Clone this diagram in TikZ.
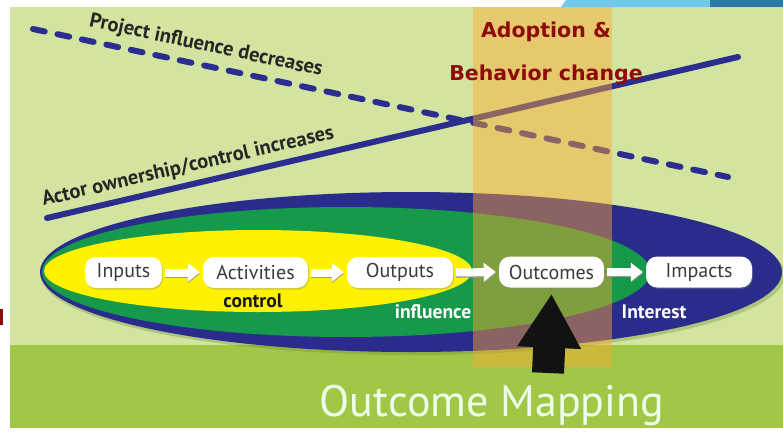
\documentclass[tikz,border=0pt]{standalone}
\usepackage{fontspec}
\setmainfont{PT Sans}
\newfontfamily\djv{DejaVu Sans}
\usetikzlibrary{arrows.meta,shadows}
\definecolor{bgl}{HTML}{D2E4A0}
\definecolor{bgd}{HTML}{A0C846}
\definecolor{navy}{HTML}{2B2E8F}
\definecolor{ellblue}{HTML}{2A2C8C}
\definecolor{ellgreen}{HTML}{16994A}
\definecolor{ellyellow}{HTML}{FFF200}
\definecolor{bandc}{HTML}{FFA830}
\definecolor{darkred}{HTML}{8E0B0B}
\definecolor{lblue}{HTML}{70C8EA}
\definecolor{dblue}{HTML}{2C78A8}
\definecolor{txt}{HTML}{3A3A3A}
\definecolor{shad}{HTML}{6E8A3A}
\begin{document}
\begin{tikzpicture}[x=1pt,y=-1pt,
  box/.style={fill=white, rounded corners=11pt, minimum height=31pt, inner sep=0pt,
    text=txt, font=\fontsize{20}{20}\selectfont,
    drop shadow={opacity=0.35, shadow xshift=1pt, shadow yshift=-1.5pt}},
  flow/.style={white, line width=8pt, -{Triangle[length=12pt,width=18pt]}},
  flowshade/.style={black!40, line width=8pt, -{Triangle[length=12pt,width=18pt]}},
  lab/.style={font=\bfseries\fontsize{19.5}{19.5}\selectfont, inner sep=0pt},
  linelab/.style={font=\bfseries\fontsize{20.5}{20.5}\selectfont, text=black!85, inner sep=0pt},
  redlab/.style={font=\djv\bfseries\fontsize{20.5}{20.5}\selectfont, text=darkred, inner sep=0pt},
  trend/.style={navy, line width=6pt, line cap=round}
]
\useasboundingbox (0,0) rectangle (783,431);
% backgrounds
\fill[bgl] (10,7) rectangle (783,345);
\fill[bgd] (10,345) rectangle (783,428);
\fill[lblue] (566,0) -- (783,0) -- (783,7) -- (561,7) -- cycle;
\fill[dblue] (710,0) rectangle (783,7);
\fill[darkred] (0,309) rectangle (3,325);
% ellipses
\fill[shad, opacity=0.35] (413,275) ellipse [x radius=372pt, y radius=80pt];
\fill[ellblue] (411,272) ellipse [x radius=371pt, y radius=80pt];
\fill[ellgreen] (346,272) ellipse [x radius=304pt, y radius=65pt];
\fill[ellyellow] (258,271) ellipse [x radius=214pt, y radius=41pt];
% trend lines
\coordinate (d1) at (33,29);
\coordinate (d2) at (728,177);
\coordinate (s1) at (47,218);
\coordinate (s2) at (738,57);
\draw[trend, dash pattern=on 12pt off 13pt] (d1) -- (d2);
\draw[trend] (s1) -- (s2);
% band
\fill[bandc, opacity=0.45] (473,7) rectangle (612,367);
% boxes
\node[box, minimum width=77pt] (in) at (123.5,272.5) {Inputs};
\node[box, minimum width=105pt] (act) at (255.5,272.5) {Activities};
\node[box, minimum width=106pt] (op) at (400,272.5) {Outputs};
\node[box, minimum width=105pt] (oc) at (551.5,272) {Outcomes};
\node[box, minimum width=106pt] (im) at (699,272) {Impacts};
\foreach \a/\b in {in/act, act/op, op/oc, oc/im}{
  \draw[flowshade] ([xshift=3pt,yshift=-1.3pt]\a.east) -- ([xshift=-3pt,yshift=-1.3pt]\b.west);
  \draw[flow] ([xshift=3pt]\a.east) -- ([xshift=-3pt]\b.west);
}
% zone labels
\node[lab, anchor=base, text=black!90] (ctl) at (253,307) {control};
\node[lab, anchor=base, text=white] (inf) at (433,318) {influence};
\node[lab, anchor=base, text=white] (int) at (654,318) {Interest};
% line labels
\node[linelab, rotate=-12] (pl) at (206,46) {Project influence decreases};
\node[linelab, rotate=13] (al) at (188,167) {Actor ownership/control increases};
% adoption
\node[redlab, anchor=base] (ad1) at (546,37) {Adoption \&};
\node[redlab, anchor=base] (ad2) at (546,80) {Behavior change};
% big arrow
\coordinate (ab) at (548,373);
\draw[black!93, line width=32pt, -{Triangle[length=54pt,width=60pt]}] (ab) -- ([yshift=-6pt]oc.south);
% title
\node[anchor=base, text=white!92!green, font=\fontsize{44}{44}\selectfont, inner sep=0pt] (om) at (492,416) {Outcome Mapping};
\end{tikzpicture}
\end{document}
